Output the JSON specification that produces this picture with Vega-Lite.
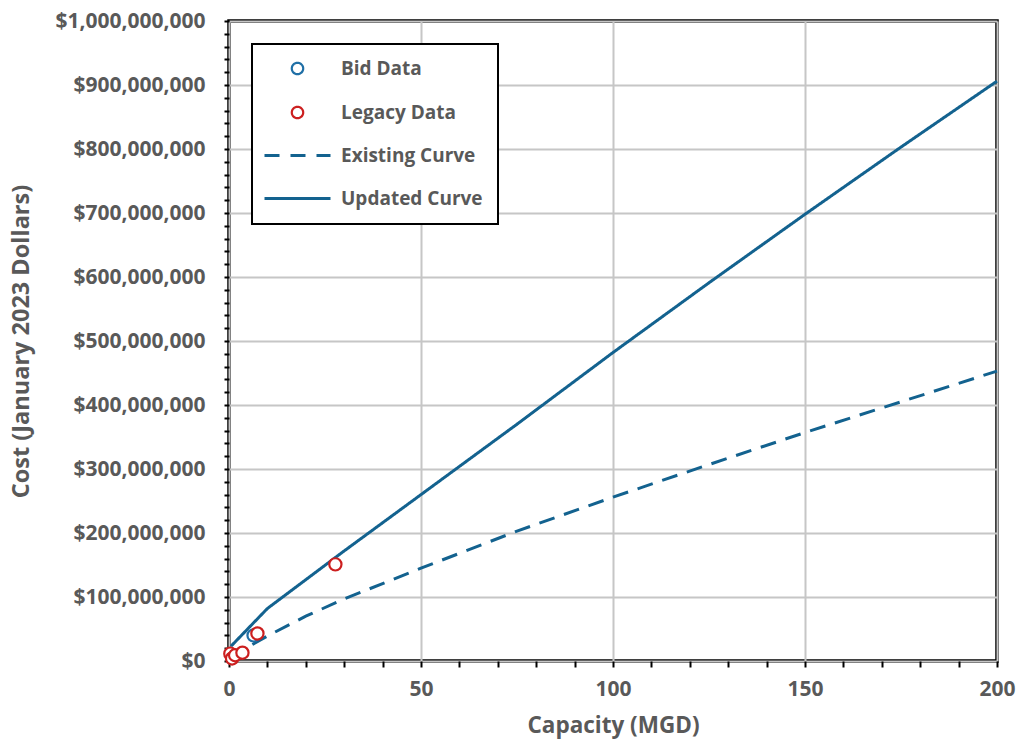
{
  "$schema": "https://vega.github.io/schema/vega-lite/v6.json",
  "autosize": "none",
  "padding": {"left": 229, "top": 21, "right": 24, "bottom": 86},
  "width": 768,
  "height": 640,
  "background": "white",
  "config": {
    "view": {"stroke": "black", "strokeWidth": 3.5},
    "font": "Open Sans"
  },
  "data": {
    "values": [
      {"series": "Updated Curve", "x": 0.5, "y": 23000000},
      {"series": "Updated Curve", "x": 10, "y": 82000000},
      {"series": "Updated Curve", "x": 20, "y": 127000000},
      {"series": "Updated Curve", "x": 30, "y": 172000000},
      {"series": "Updated Curve", "x": 40, "y": 216000000},
      {"series": "Updated Curve", "x": 50, "y": 260000000},
      {"series": "Updated Curve", "x": 75, "y": 370000000},
      {"series": "Updated Curve", "x": 100, "y": 482000000},
      {"series": "Updated Curve", "x": 125, "y": 591000000},
      {"series": "Updated Curve", "x": 150, "y": 698000000},
      {"series": "Updated Curve", "x": 175, "y": 803000000},
      {"series": "Updated Curve", "x": 200, "y": 906000000},
      {"series": "Existing Curve", "x": 0.5, "y": 3000000},
      {"series": "Existing Curve", "x": 1, "y": 6000000},
      {"series": "Existing Curve", "x": 2, "y": 10000000},
      {"series": "Existing Curve", "x": 5, "y": 22000000},
      {"series": "Existing Curve", "x": 10, "y": 39000000},
      {"series": "Existing Curve", "x": 20, "y": 70000000},
      {"series": "Existing Curve", "x": 30, "y": 97000000},
      {"series": "Existing Curve", "x": 40, "y": 121000000},
      {"series": "Existing Curve", "x": 50, "y": 145000000},
      {"series": "Existing Curve", "x": 75, "y": 203000000},
      {"series": "Existing Curve", "x": 100, "y": 256000000},
      {"series": "Existing Curve", "x": 125, "y": 307000000},
      {"series": "Existing Curve", "x": 150, "y": 357000000},
      {"series": "Existing Curve", "x": 175, "y": 405000000},
      {"series": "Existing Curve", "x": 200, "y": 453000000},
      {"series": "Bid Data", "x": 6.4, "y": 40000000},
      {"series": "Legacy Data", "x": 0.35, "y": 11500000},
      {"series": "Legacy Data", "x": 0.8, "y": 4000000},
      {"series": "Legacy Data", "x": 1.6, "y": 9000000},
      {"series": "Legacy Data", "x": 3.5, "y": 13000000},
      {"series": "Legacy Data", "x": 7.4, "y": 43000000},
      {"series": "Legacy Data", "x": 27.7, "y": 151000000}
    ]
  },
  "encoding": {
    "x": {
      "field": "x", "type": "quantitative",
      "scale": {"domain": [0, 200], "nice": false, "zero": true},
      "axis": {
        "title": "Capacity (MGD)",
        "values": [0,10,20,30,40,50,60,70,80,90,100,110,120,130,140,150,160,170,180,190,200],
        "labelExpr": "datum.value % 50 === 0 ? datum.label : ''",
        "domain": false,
        "tickColor": "black", "tickSize": 6, "tickWidth": 2,
        "grid": true,
        "gridColor": "#c6c6c6", "gridWidth": 2,
        "gridOpacity": {"condition": {"test": "datum.value % 50 === 0", "value": 1}, "value": 0},
        "labelFont": "Open Sans", "labelFontSize": 21, "labelFontWeight": "bold", "labelColor": "#595959",
        "labelPadding": 11, "labelFlush": false,
        "titleFont": "Open Sans", "titleFontSize": 22.5, "titleFontWeight": "bold", "titleColor": "#595959",
        "titlePadding": 15
      }
    },
    "y": {
      "field": "y", "type": "quantitative",
      "scale": {"domain": [0, 1000000000], "nice": false},
      "axis": {
        "title": "Cost (January 2023 Dollars)",
        "values": [0,20000000,40000000,60000000,80000000,100000000,120000000,140000000,160000000,180000000,200000000,220000000,240000000,260000000,280000000,300000000,320000000,340000000,360000000,380000000,400000000,420000000,440000000,460000000,480000000,500000000,520000000,540000000,560000000,580000000,600000000,620000000,640000000,660000000,680000000,700000000,720000000,740000000,760000000,780000000,800000000,820000000,840000000,860000000,880000000,900000000,920000000,940000000,960000000,980000000,1000000000],
        "format": "$,.0f",
        "labelExpr": "datum.value % 100000000 === 0 ? datum.label : ''",
        "domain": false,
        "tickColor": "black", "tickSize": 5, "tickWidth": 2,
        "grid": true,
        "gridColor": "#c6c6c6", "gridWidth": 2,
        "gridOpacity": {"condition": {"test": "datum.value % 100000000 === 0", "value": 1}, "value": 0},
        "labelFont": "Open Sans", "labelFontSize": 21, "labelFontWeight": "bold", "labelColor": "#595959",
        "labelPadding": 19, "labelFlush": false,
        "titleFont": "Open Sans", "titleFontSize": 23.5, "titleFontWeight": "bold", "titleColor": "#595959",
        "titlePadding": 21
      }
    }
  },
  "layer": [
    {
      "transform": [{"filter": "datum.series === 'Existing Curve' || datum.series === 'Updated Curve'"}],
      "mark": {"type": "line", "strokeWidth": 3, "clip": false},
      "encoding": {
        "color": {
          "field": "series", "type": "nominal",
          "scale": {"domain": ["Bid Data", "Legacy Data", "Existing Curve", "Updated Curve"], "range": ["#1f6fa6", "#cc1f1f", "#13628f", "#13628f"]},
          "legend": {
            "title": null,
            "orient": "top-left",
            "offset": 23,
            "padding": 15,
            "strokeColor": "black",
            "fillColor": "white",
            "cornerRadius": 0,
            "symbolSize": 400,
            "symbolOffset": 21,
            "labelOffset": 34,
            "rowPadding": 23,
            "labelFont": "Open Sans", "labelFontSize": 19, "labelFontWeight": "bold", "labelColor": "#595959",
            "encode": {
              "legend": {
                "update": {"strokeWidth": {"value": 2}}
              },
              "symbols": {
                "update": {
                  "shape": {"signal": "(datum.value === 'Bid Data' || datum.value === 'Legacy Data') ? 'circle' : 'M-3.3,0H3.3'"},
                  "size": {"signal": "(datum.value === 'Bid Data' || datum.value === 'Legacy Data') ? 130 : 400"},
                  "strokeDash": {"signal": "datum.value === 'Existing Curve' ? [15, 11] : [1, 0]"},
                  "strokeWidth": {"signal": "(datum.value === 'Bid Data' || datum.value === 'Legacy Data') ? 2.2 : 3"},
                  "fill": {"signal": "(datum.value === 'Bid Data' || datum.value === 'Legacy Data') ? 'white' : 'transparent'"},
                  "opacity": {"value": 1}
                }
              }
            }
          }
        },
        "strokeDash": {
          "field": "series", "type": "nominal",
          "scale": {"domain": ["Existing Curve", "Updated Curve"], "range": [[16, 10], [1, 0]]},
          "legend": null
        }
      }
    },
    {
      "transform": [{"filter": "datum.series === 'Bid Data' || datum.series === 'Legacy Data'"}],
      "mark": {"type": "point", "filled": false, "fill": "white", "fillOpacity": 1, "opacity": 1, "size": 150, "strokeWidth": 2.2, "clip": false},
      "encoding": {
        "color": {"field": "series", "type": "nominal"}
      }
    }
  ]
}
